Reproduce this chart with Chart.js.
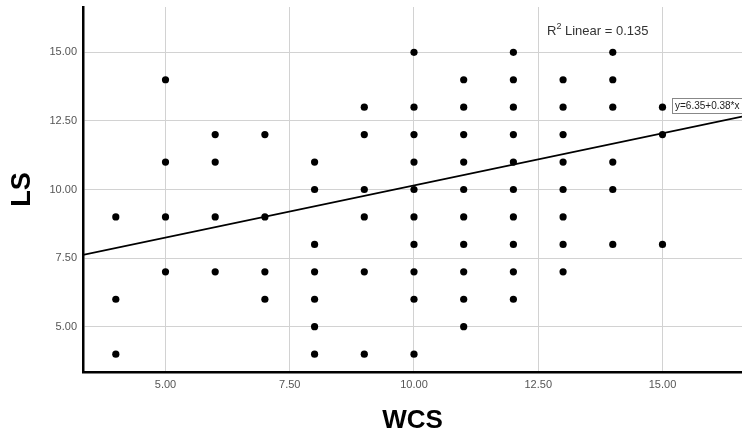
<!DOCTYPE html>
<html>
<head>
<meta charset="utf-8">
<title>LS vs WCS</title>
<script src="https://cdn.jsdelivr.net/npm/chart.js@4/dist/chart.umd.min.js"></script>
<style>
    html, body { margin: 0; padding: 0; background: #fff; overflow: hidden; }
    #wrap { width: 742px; height: 440px; overflow: hidden; }
    canvas { display: block; }
</style>
</head>
<body>
<div id="wrap"><canvas id="scatterChart" width="746" height="440"></canvas></div>
<script>
// WCS value for each column of dots, and the LS values found in that column
const wcsValues = [4, 5, 6, 7, 8, 9, 10, 11, 12, 13, 14, 15];
const lsByWcs = [
    [9, 6, 4],
    [14, 11, 9, 7],
    [12, 11, 9, 7],
    [12, 9, 7, 6],
    [11, 10, 8, 7, 6, 5, 4],
    [13, 12, 10, 9, 7, 4],
    [15, 13, 12, 11, 10, 9, 8, 7, 6, 4],
    [14, 13, 12, 11, 10, 9, 8, 7, 6, 5],
    [15, 14, 13, 12, 11, 10, 9, 8, 7, 6],
    [14, 13, 12, 11, 10, 9, 8, 7],
    [15, 14, 13, 11, 10, 8],
    [13, 12, 8]
];
const xTicks = [5, 7.5, 10, 12.5, 15];
const yTicks = [5, 7.5, 10, 12.5, 15];
const xRange = [3.34, 16.6];
const yRange = [3.35, 16.65];
const fitIntercept = 6.35;
const fitSlope = 0.38;
const rSquared = 0.135;

const points = wcsValues.flatMap((x, i) => lsByWcs[i].map(y => ({ x, y })));
const fitLine = xRange.map(x => ({ x, y: fitIntercept + fitSlope * x }));

const annotations = {
    id: 'annotations',
    afterDraw(chart) {
        const { ctx } = chart;
        ctx.save();
        // R² label
        ctx.fillStyle = '#333';
        ctx.textBaseline = 'alphabetic';
        ctx.font = '13px "Liberation Sans", Arial, sans-serif';
        let x = 547;
        ctx.fillText('R', x, 35);
        x += ctx.measureText('R').width;
        ctx.font = '9px "Liberation Sans", Arial, sans-serif';
        ctx.fillText('2', x, 29);
        x += ctx.measureText('2').width;
        ctx.font = '13px "Liberation Sans", Arial, sans-serif';
        ctx.fillText(' Linear = ' + rSquared.toFixed(3), x, 35);

        // equation box, cut off by the right edge like the original
        ctx.fillStyle = '#fff';
        ctx.fillRect(672.5, 98.5, 80, 15);
        ctx.strokeStyle = '#888';
        ctx.lineWidth = 1;
        ctx.strokeRect(672.5, 98.5, 80, 15);
        ctx.fillStyle = '#222';
        ctx.font = '10px "Liberation Sans", Arial, sans-serif';
        ctx.textBaseline = 'middle';
        ctx.fillText(`y=${fitIntercept.toFixed(2)}+${fitSlope.toFixed(2)}*x`, 675, 106.5);
        ctx.restore();
    }
};

const axisCommon = {
    type: 'linear',
    grid: { color: '#d2d2d2', lineWidth: 1, drawTicks: false },
    border: { display: true, color: '#000', width: 2.5 },
    ticks: {
        color: '#555',
        font: { family: '"Liberation Sans", Arial, sans-serif', size: 11 },
        callback: v => Number(v).toFixed(2)
    }
};

new Chart(document.getElementById('scatterChart'), {
    type: 'scatter',
    data: {
        datasets: [
            {
                label: 'LS',
                data: points,
                backgroundColor: '#000',
                borderColor: '#000',
                pointRadius: 3.6,
                pointBorderWidth: 0
            },
            {
                type: 'line',
                label: 'Linear fit',
                data: fitLine,
                borderColor: '#000',
                borderWidth: 1.8,
                pointRadius: 0,
                fill: false
            }
        ]
    },
    options: {
        responsive: false,
        animation: false,
        devicePixelRatio: 1,
        layout: { padding: { top: 7, right: 0, left: 0, bottom: 0 } },
        plugins: { legend: { display: false }, tooltip: { enabled: false } },
        scales: {
            x: {
                ...axisCommon,
                min: xRange[0],
                max: xRange[1],
                afterBuildTicks: axis => { axis.ticks = xTicks.map(value => ({ value })); },
                afterFit: axis => {
                    axis.height = 68;
                    axis.paddingLeft = 0;
                    axis.paddingRight = 0;
                },
                ticks: { ...axisCommon.ticks, padding: 6, maxRotation: 0 },
                title: {
                    display: true,
                    text: 'WCS',
                    color: '#000',
                    font: { family: '"Liberation Sans", Arial, sans-serif', size: 26, weight: 'bold' },
                    padding: { top: 0, bottom: 4 }
                }
            },
            y: {
                ...axisCommon,
                min: yRange[0],
                max: yRange[1],
                afterBuildTicks: axis => { axis.ticks = yTicks.map(value => ({ value })); },
                afterFit: axis => {
                    axis.width = 83;
                    axis.paddingTop = 0;
                    axis.paddingBottom = 0;
                },
                ticks: { ...axisCommon.ticks, padding: 6 },
                title: {
                    display: true,
                    text: 'LS',
                    color: '#000',
                    font: { family: '"Liberation Sans", Arial, sans-serif', size: 27, weight: 'bold' },
                    padding: { top: 6, bottom: 0 }
                }
            }
        }
    },
    plugins: [annotations]
});
</script>
</body>
</html>
